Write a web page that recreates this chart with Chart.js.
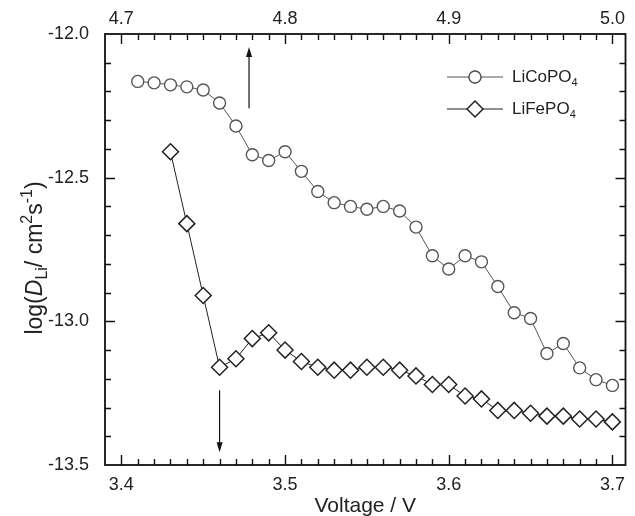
<!DOCTYPE html>
<html>
<head>
<meta charset="utf-8">
<script src="https://cdn.jsdelivr.net/npm/chart.js@4.4.1/dist/chart.umd.min.js"></script>
<style>
    html, body { margin: 0; padding: 0; background: #fff; }
    #wrap { width: 635px; height: 516px; }
</style>
</head>
<body>
<div id="wrap"><canvas id="diffChart" width="635" height="516"></canvas></div>
<script>
// LiFePO4 - plotted against the bottom axis (V)
const feVoltage = [3.43, 3.44, 3.45, 3.46, 3.47, 3.48, 3.49, 3.50, 3.51, 3.52,
                   3.53, 3.54, 3.55, 3.56, 3.57, 3.58, 3.59, 3.60, 3.61, 3.62,
                   3.63, 3.64, 3.65, 3.66, 3.67, 3.68, 3.69, 3.70];
const feLogD = [-12.41, -12.66, -12.91, -13.16, -13.13, -13.06, -13.04, -13.10, -13.14, -13.16,
                -13.17, -13.17, -13.16, -13.16, -13.17, -13.19, -13.22, -13.22, -13.26, -13.27,
                -13.31, -13.31, -13.32, -13.33, -13.33, -13.34, -13.34, -13.35];

// LiCoPO4 - plotted against the top axis (V)
const coVoltage = [4.71, 4.72, 4.73, 4.74, 4.75, 4.76, 4.77, 4.78, 4.79, 4.80,
                   4.81, 4.82, 4.83, 4.84, 4.85, 4.86, 4.87, 4.88, 4.89, 4.90,
                   4.91, 4.92, 4.93, 4.94, 4.95, 4.96, 4.97, 4.98, 4.99, 5.00];
const coLogD = [-12.165, -12.17, -12.177, -12.184, -12.195, -12.24, -12.32, -12.42, -12.44, -12.41,
                -12.478, -12.548, -12.587, -12.60, -12.61, -12.60, -12.616, -12.672, -12.772, -12.818,
                -12.772, -12.793, -12.879, -12.97, -12.99, -13.112, -13.077, -13.162, -13.203, -13.223];

const bottomTicks = [3.4, 3.5, 3.6, 3.7];
const topTicks = [4.7, 4.8, 4.9, 5.0];
const yTicks = [-12.0, -12.5, -13.0, -13.5];

// arrows marking the onset voltages (data units)
const arrowUp = { x: 4.778, from: -12.258, to: -12.045 };    // top axis
const arrowDown = { x: 3.46, from: -13.24, to: -13.456 };    // bottom axis

const FONT = '"Liberation Sans", Arial, sans-serif';

function minorList(min, max, step) {
    const out = [];
    for (let v = min; v <= max + 1e-9; v += step) out.push(Math.round(v * 1000) / 1000);
    return out;
}

function setTicks(values) {
    return function(scale) {
        scale.ticks = values.map(v => ({ value: v }));
    };
}

function richText(ctx, parts, x, y) {
    // measure then draw left to right, centred on x
    let total = 0;
    parts.forEach(p => {
        ctx.font = (p.italic ? 'italic ' : '') + p.size + 'px ' + FONT;
        p.w = ctx.measureText(p.t).width;
        total += p.w;
    });
    let cx = x - total / 2;
    parts.forEach(p => {
        ctx.font = (p.italic ? 'italic ' : '') + p.size + 'px ' + FONT;
        ctx.fillText(p.t, cx, y + (p.dy || 0));
        cx += p.w;
    });
}

function drawArrow(ctx, x, y0, y1) {
    const dir = y1 < y0 ? -1 : 1;
    ctx.beginPath();
    ctx.moveTo(x, y0);
    ctx.lineTo(x, y1 - dir * 8);
    ctx.stroke();
    ctx.beginPath();
    ctx.moveTo(x, y1);
    ctx.lineTo(x - 3, y1 - dir * 10);
    ctx.lineTo(x + 3, y1 - dir * 10);
    ctx.closePath();
    ctx.fill();
}

const framePlugin = {
    id: 'frame',
    afterDraw(chart) {
        const ctx = chart.ctx;
        const a = chart.chartArea;
        const xb = chart.scales.x, xt = chart.scales.xTop, y = chart.scales.y;
        ctx.save();
        ctx.strokeStyle = '#111';
        ctx.fillStyle = '#111';

        // frame
        ctx.lineWidth = 1.8;
        ctx.strokeRect(a.left, a.top, a.right - a.left, a.bottom - a.top);

        // inward ticks
        ctx.lineWidth = 1.4;
        ctx.beginPath();
        minorList(3.40, 3.70, 0.01).forEach(v => {
            const px = Math.round(xb.getPixelForValue(v)) + 0.5;
            const len = bottomTicks.some(t => Math.abs(t - v) < 1e-6) ? 10 : 6;
            ctx.moveTo(px, a.bottom);
            ctx.lineTo(px, a.bottom - len);
        });
        minorList(4.70, 5.00, 0.01).forEach(v => {
            const px = Math.round(xt.getPixelForValue(v)) + 0.5;
            const len = topTicks.some(t => Math.abs(t - v) < 1e-6) ? 10 : 6;
            ctx.moveTo(px, a.top);
            ctx.lineTo(px, a.top + len);
        });
        minorList(-13.4, -12.1, 0.1).forEach(v => {
            const py = Math.round(y.getPixelForValue(v)) + 0.5;
            const len = yTicks.some(t => Math.abs(t - v) < 1e-6) ? 10 : 6;
            ctx.moveTo(a.left, py);
            ctx.lineTo(a.left + len, py);
            ctx.moveTo(a.right, py);
            ctx.lineTo(a.right - len, py);
        });
        ctx.stroke();

        // arrows
        ctx.lineWidth = 1.2;
        drawArrow(ctx, xt.getPixelForValue(arrowUp.x), y.getPixelForValue(arrowUp.from), y.getPixelForValue(arrowUp.to));
        drawArrow(ctx, xb.getPixelForValue(arrowDown.x), y.getPixelForValue(arrowDown.from), y.getPixelForValue(arrowDown.to));

        // legend
        const rows = [
            { label: 'LiCoPO', ds: chart.data.datasets[0], y: a.top + 43 },
            { label: 'LiFePO', ds: chart.data.datasets[1], y: a.top + 75 }
        ];
        rows.forEach(r => {
            ctx.strokeStyle = r.ds.borderColor;
            ctx.lineWidth = 1;
            ctx.beginPath();
            ctx.moveTo(447, r.y);
            ctx.lineTo(503, r.y);
            ctx.stroke();
            Chart.helpers.drawPoint(ctx, {
                pointStyle: r.ds.pointStyle,
                radius: r.ds.pointRadius,
                borderWidth: r.ds.pointBorderWidth
            }, 475, r.y);
            ctx.fillStyle = '#fff';
            ctx.strokeStyle = r.ds.pointBorderColor;
            ctx.lineWidth = r.ds.pointBorderWidth;
            ctx.fill();
            ctx.stroke();
            ctx.fillStyle = '#222';
            ctx.textBaseline = 'middle';
            ctx.textAlign = 'left';
            ctx.font = '17px ' + FONT;
            ctx.fillText(r.label, 512, r.y);
            const w = ctx.measureText(r.label).width;
            ctx.font = '11px ' + FONT;
            ctx.fillText('4', 512 + w, r.y + 6);
        });

        // axis titles
        ctx.fillStyle = '#222';
        ctx.textBaseline = 'alphabetic';
        ctx.textAlign = 'left';
        ctx.save();
        ctx.translate(42, 258);
        ctx.rotate(-Math.PI / 2);
        richText(ctx, [
            { t: 'log(', size: 23 },
            { t: 'D', size: 23, italic: true },
            { t: 'Li', size: 16, dy: 5 },
            { t: '/ cm', size: 23 },
            { t: '2', size: 16, dy: -10 },
            { t: 's', size: 23 },
            { t: '-1', size: 16, dy: -10 },
            { t: ')', size: 23 }
        ], 0, 0);
        ctx.restore();
        richText(ctx, [{ t: 'Voltage / V', size: 21 }], (a.left + a.right) / 2, 512);

        ctx.restore();
    }
};

const tickFont = { family: FONT, size: 18 };

new Chart(document.getElementById('diffChart'), {
    type: 'scatter',
    data: {
        datasets: [{
            label: 'LiCoPO4',
            xAxisID: 'xTop',
            data: coVoltage.map((v, i) => ({ x: v, y: coLogD[i] })),
            showLine: true,
            borderColor: '#555',
            borderWidth: 1,
            pointStyle: 'circle',
            pointRadius: 6,
            pointBorderWidth: 1.4,
            pointBorderColor: '#555',
            pointBackgroundColor: '#fff'
        }, {
            label: 'LiFePO4',
            xAxisID: 'x',
            data: feVoltage.map((v, i) => ({ x: v, y: feLogD[i] })),
            showLine: true,
            borderColor: '#222',
            borderWidth: 1,
            pointStyle: 'rectRot',
            pointRadius: 8,
            pointBorderWidth: 1.5,
            pointBorderColor: '#222',
            pointBackgroundColor: '#fff'
        }]
    },
    options: {
        responsive: false,
        animation: false,
        devicePixelRatio: 1,
        layout: { padding: { left: 0, right: 4, top: 0, bottom: 0 } },
        plugins: {
            legend: { display: false },
            tooltip: { enabled: false }
        },
        scales: {
            x: {
                type: 'linear',
                position: 'bottom',
                min: 3.39,
                max: 3.708,
                afterBuildTicks: setTicks(bottomTicks),
                afterFit(s) { s.height = 51; },
                grid: { display: false },
                border: { display: false },
                ticks: {
                    font: tickFont,
                    color: '#222',
                    padding: 1,
                    maxRotation: 0,
                    autoSkip: false,
                    callback: v => v.toFixed(1)
                }
            },
            xTop: {
                type: 'linear',
                position: 'top',
                min: 4.69,
                max: 5.008,
                afterBuildTicks: setTicks(topTicks),
                afterFit(s) { s.height = 34; },
                grid: { display: false },
                border: { display: false },
                ticks: {
                    font: tickFont,
                    color: '#222',
                    padding: -4,
                    maxRotation: 0,
                    autoSkip: false,
                    callback: v => v.toFixed(1)
                }
            },
            y: {
                type: 'linear',
                position: 'left',
                min: -13.5,
                max: -12.0,
                afterBuildTicks: setTicks(yTicks),
                afterFit(s) { s.width = 105; },
                grid: { display: false },
                border: { display: false },
                ticks: {
                    font: tickFont,
                    color: '#222',
                    padding: 8,
                    autoSkip: false,
                    callback: v => v.toFixed(1)
                }
            }
        }
    },
    plugins: [framePlugin]
});
</script>
</body>
</html>
